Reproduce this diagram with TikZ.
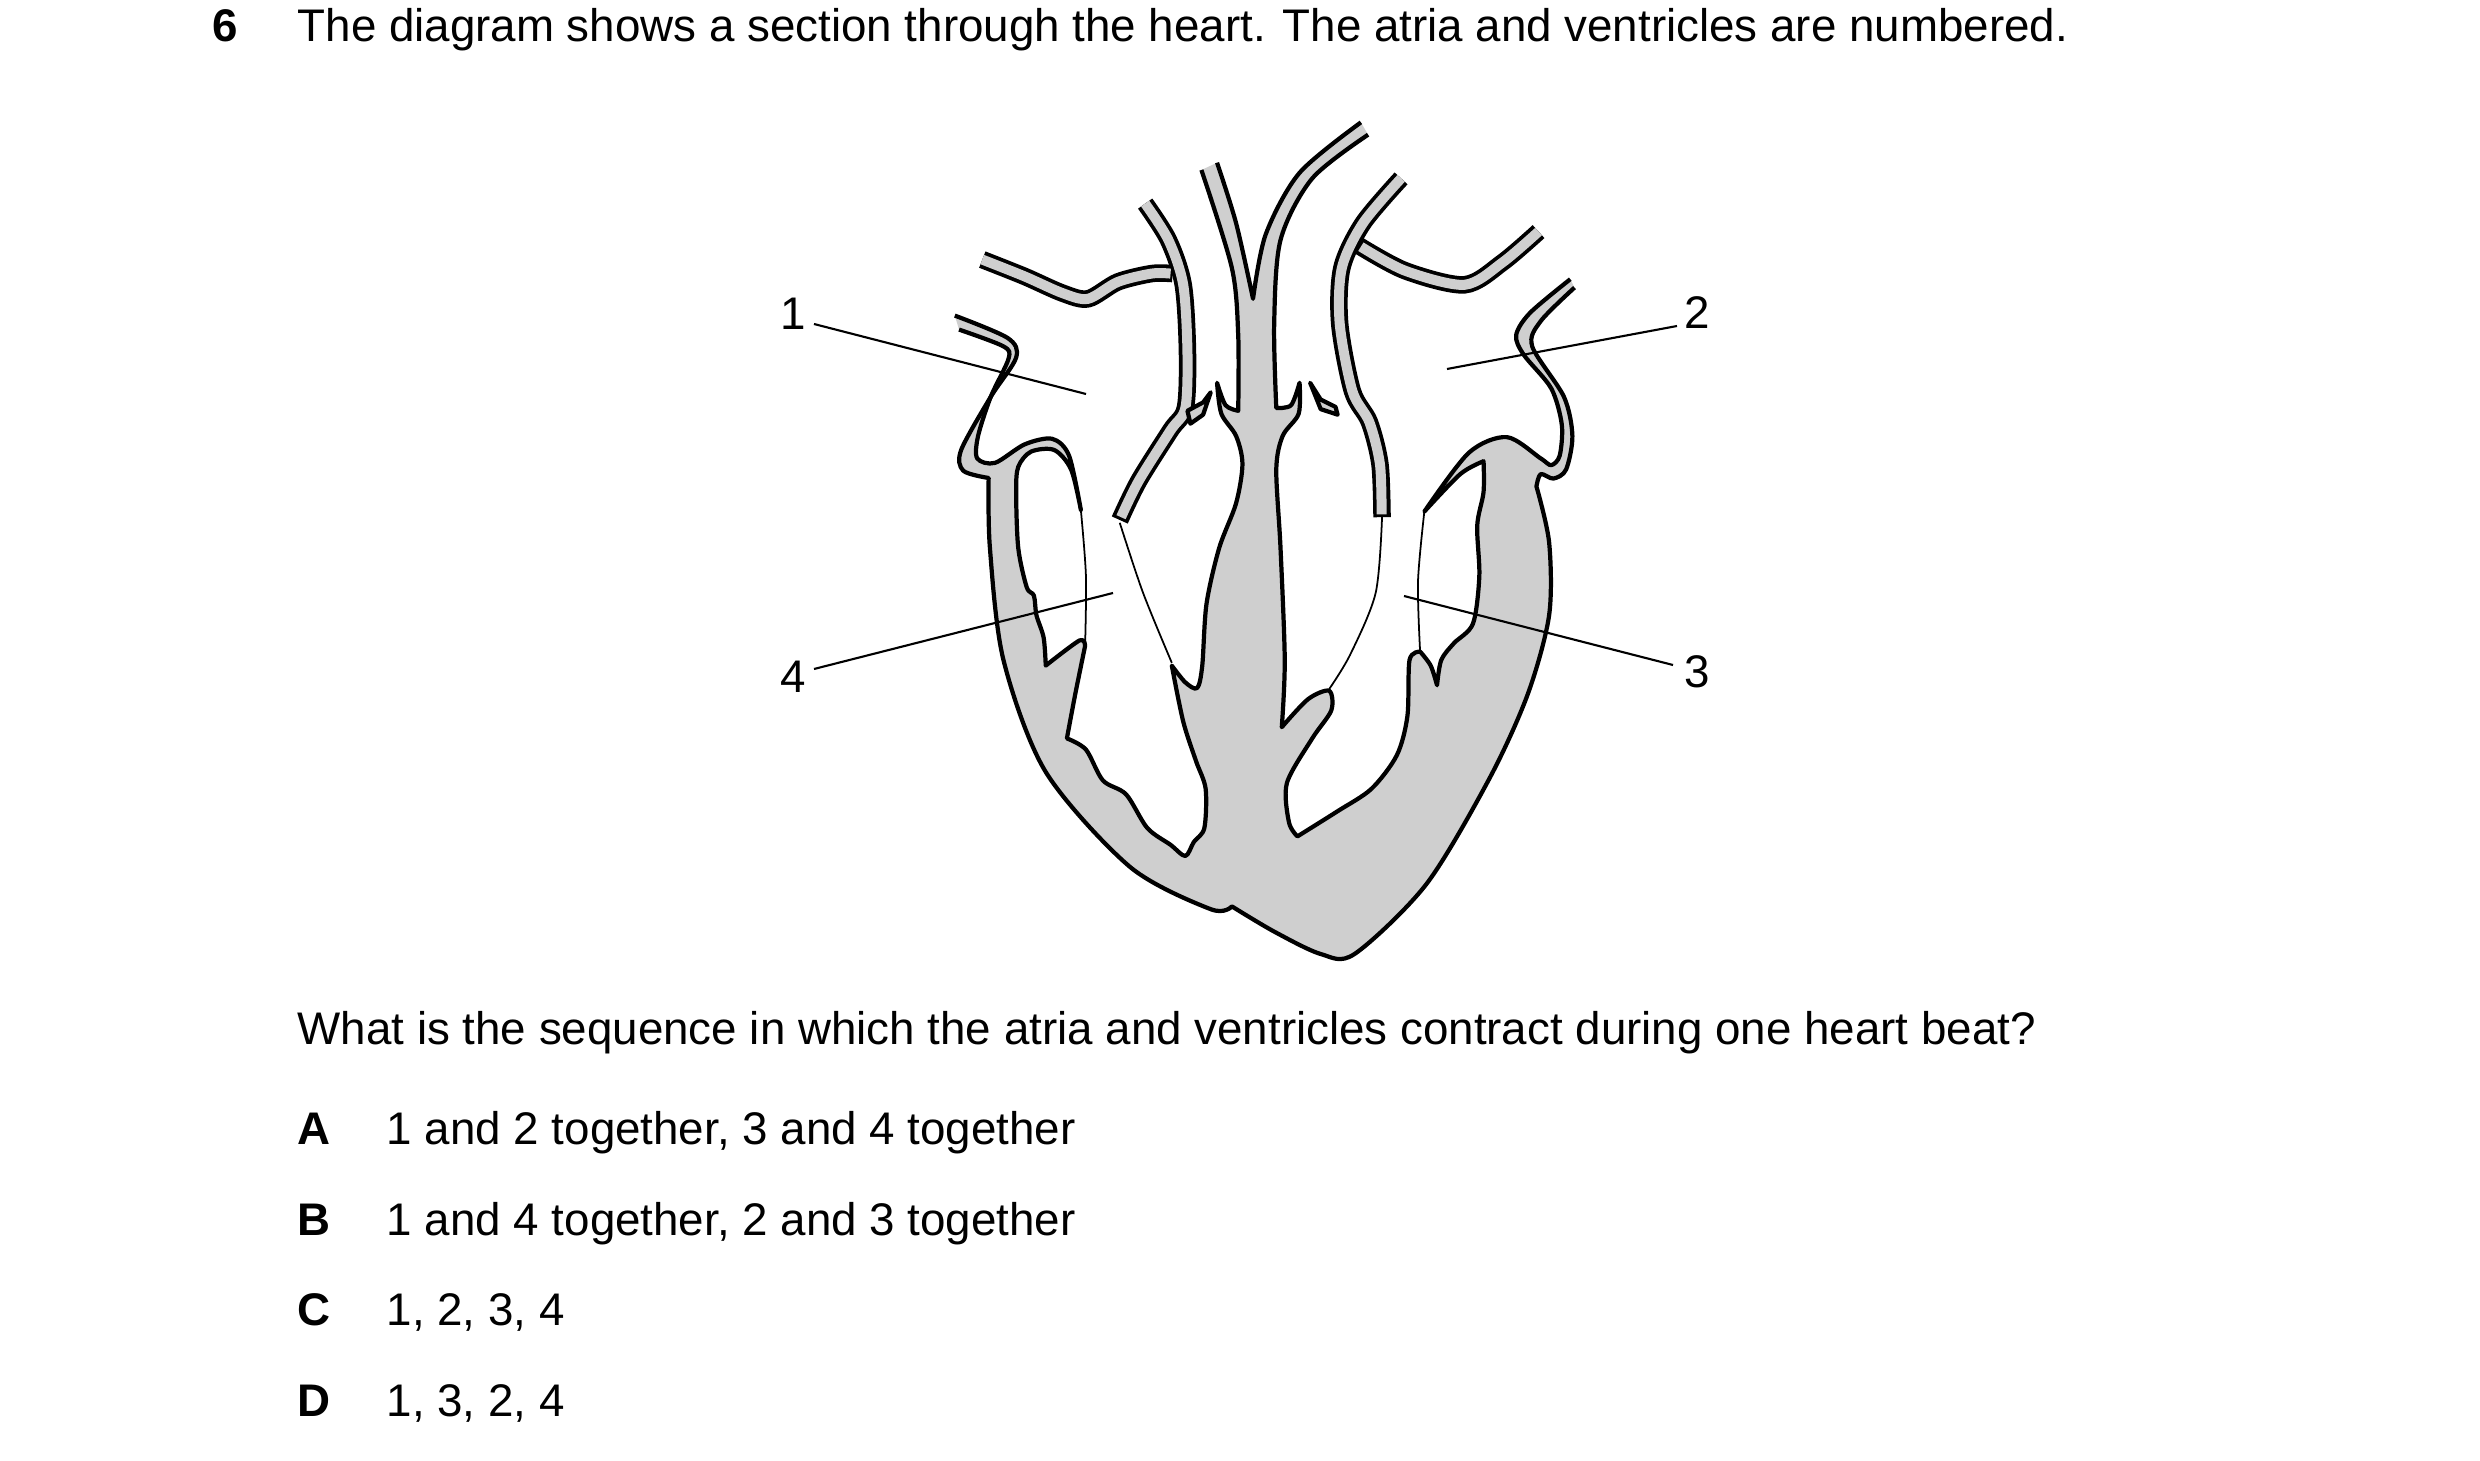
\documentclass[tikz,border=0pt]{standalone}
\usepackage{fontspec}
\setmainfont{Liberation Sans}
\begin{document}
\begin{tikzpicture}[x=0.01cm,y=-0.01cm,
  wall/.style={line width=1.2pt,line join=round},
  thin/.style={line width=0.5pt},
  body/.style={fill=black!19},
  tubeO/.style={line width=0.175cm,black},
  tubeI/.style={line width=0.10cm,black!19},
  lbl/.style={line width=0.6pt},
  txt/.style={font=\fontsize{13}{15}\selectfont,inner sep=0pt,anchor=base west},
  btxt/.style={txt,font=\fontsize{13}{15}\selectfont\bfseries},
  sm/.style={smooth,tension=0.5}]
\useasboundingbox (0,0) rectangle (2480,1461);
\node[btxt] (q) at (212,42) {6};
\node[txt] (t1) at (297,42) {The diagram shows a section through the heart. The atria and ventricles are numbered.};
\begin{scope}[shift={(940,100)},xscale=0.423,yscale=0.56]
\def\pA#1{#1 plot[sm] coordinates {(45,410) (150,440) (162,462) (120,530) (90,600) (88,640) (130,648) (200,615) (265,605) (305,635) (333,732)}
 -- plot[sm] coordinates {(333,732) (310,660) (270,625) (215,628) (185,655) (180,700) (185,800) (205,870) (222,885) (228,920) (245,960) (250,1010)}
 -- plot[sm] coordinates {(250,1010) (330,965) (343,975)}
 -- plot[sm] coordinates {(343,975) (320,1060) (300,1140)}
 -- plot[sm] coordinates {(300,1140) (345,1160) (385,1215) (440,1240) (490,1300) (545,1330) (580,1350) (600,1325) (625,1300) (628,1230) (605,1180) (575,1110) (548,1010)}
 -- plot[sm] coordinates {(548,1010) (580,1040) (608,1050) (620,1010) (630,900) (660,800) (700,720) (715,650) (700,600) (665,560) (655,505)}
 -- plot[sm] coordinates {(655,505) (675,545) (705,555)}
 -- plot[sm] coordinates {(705,555) (705,420) (690,300) (618,125)}}
\def\pB#1{#1 plot[sm] coordinates {(655,112) (700,220) (740,355)}
 -- plot[sm] coordinates {(740,355) (770,240) (850,130) (995,40)}}
\def\pC#1{#1 plot[sm] coordinates {(1012,62) (880,140) (805,250) (790,400) (795,550)}
 -- plot[sm] coordinates {(795,550) (830,545) (850,505)}
 -- plot[sm] coordinates {(850,505) (848,560) (810,600) (795,660) (805,800) (815,1000) (808,1120)}
 -- plot[sm] coordinates {(808,1120) (870,1070) (920,1055) (925,1090) (880,1140) (820,1220) (825,1290) (845,1315)}
 -- plot[sm] coordinates {(845,1315) (940,1270) (1020,1230) (1080,1170) (1105,1100) (1110,1000) (1135,985)}
 -- plot[sm] coordinates {(1135,985) (1160,1010) (1175,1045)}
 -- plot[sm] coordinates {(1175,1045) (1185,1000) (1215,970) (1260,935) (1275,850) (1270,760) (1285,700) (1285,645)}
 -- plot[sm] coordinates {(1285,645) (1230,668) (1145,735)}
 -- plot[sm] coordinates {(1145,735) (1250,630) (1340,602) (1420,640) (1445,652) (1465,635) (1470,580) (1445,515) (1380,455) (1362,420) (1395,380) (1490,320)}}
\def\pD#1{#1 plot[sm] coordinates {(1500,335) (1420,395) (1400,440) (1475,530) (1495,600) (1480,660) (1450,676) (1420,668) (1410,690)}
 -- plot[sm] coordinates {(1410,690) (1440,790) (1440,920) (1390,1060) (1300,1210) (1150,1400) (980,1525) (900,1525) (790,1485) (690,1440)}
 -- plot[sm] coordinates {(690,1440) (640,1445) (450,1370) (250,1200) (150,1000) (118,800) (115,675)}
 -- plot[sm] coordinates {(115,675) (55,662) (50,625) (120,530) (180,460) (160,425) (35,385)}}
\fill[body] \pA{} \pB{--} \pC{--} \pD{--} -- cycle;
\draw[wall] \pA{};
\draw[wall] \pB{};
\draw[wall] \pC{};
\draw[wall] \pD{};
% vessels
\draw[tubeO] plot[sm] coordinates {(485,185) (540,250) (575,330) (585,450) (580,550) (545,590) (470,680) (425,750)};
\draw[tubeO] plot[sm] coordinates {(100,285) (200,315) (290,345) (350,355) (420,325) (500,310) (550,310)};
\draw[tubeO] plot[sm] coordinates {(1090,140) (1000,220) (950,300) (945,400) (975,520) (1015,575) (1040,650) (1045,745)};
\draw[tubeO] plot[sm] coordinates {(1415,235) (1330,290) (1240,330) (1100,305) (990,260)};
\draw[tubeI] plot[sm] coordinates {(485,185) (540,250) (575,330) (585,450) (580,550) (545,590) (470,680) (428,745)};
\draw[tubeI] plot[sm] coordinates {(100,285) (200,315) (290,345) (350,355) (420,325) (500,310) (545,310)};
\draw[tubeI] plot[sm] coordinates {(1090,140) (1000,220) (950,300) (945,400) (975,520) (1015,575) (1040,650) (1044,740)};
\draw[tubeI] plot[sm] coordinates {(1415,235) (1330,290) (1240,330) (1100,305) (995,262)};
% cusps
\draw[wall,body] (585,555) -- (622,540) -- (640,522) -- (622,562) -- (592,578) -- cycle;
\draw[wall,body] (875,505) -- (900,535) -- (935,548) -- (940,562) -- (900,552) -- cycle;
% leaflets
\draw[thin] plot[sm] coordinates {(333,732) (345,850) (343,975)};
\draw[thin] plot[sm] coordinates {(425,755) (480,880) (548,1005)};
\draw[thin] plot[sm] coordinates {(1045,745) (1030,880) (970,990) (920,1052)};
\draw[thin] plot[sm] coordinates {(1145,735) (1130,860) (1135,985)};
\end{scope}
% labels
\node[txt,anchor=center] (n1) at (793,314) {1};
\node[txt,anchor=center] (n2) at (1697,313) {2};
\node[txt,anchor=center] (n3) at (1697,672) {3};
\node[txt,anchor=center] (n4) at (793,677) {4};
\coordinate (e1) at (1086,394);
\coordinate (e2) at (1447,369);
\coordinate (e3) at (1404,596);
\coordinate (e4) at (1113,593);
\draw[lbl] (814,324) -- (e1);
\draw[lbl] (1677,326) -- (e2);
\draw[lbl] (1673,665) -- (e3);
\draw[lbl] (814,669) -- (e4);
% question
\node[txt] (q2) at (297,1045) {What is the sequence in which the atria and ventricles contract during one heart beat?};
\node[btxt] (la) at (297,1144) {A};
\node[txt] (oa) at (386,1144) {1 and 2 together, 3 and 4 together};
\node[btxt] (lb) at (297,1235) {B};
\node[txt] (ob) at (386,1235) {1 and 4 together, 2 and 3 together};
\node[btxt] (lc) at (297,1325) {C};
\node[txt] (oc) at (386,1325) {1, 2, 3, 4};
\node[btxt] (ld) at (297,1416) {D};
\node[txt] (od) at (386,1416) {1, 3, 2, 4};
\end{tikzpicture}
\end{document}
